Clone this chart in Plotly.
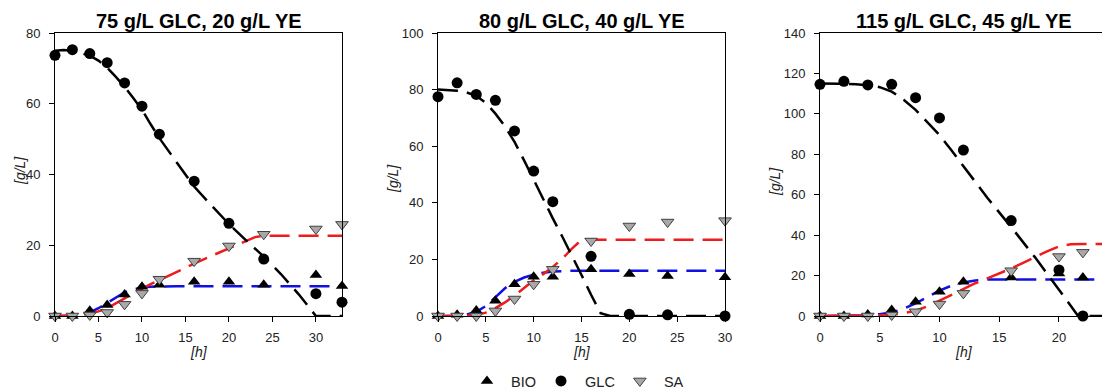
import plotly.graph_objects as go

W, H = 1102, 392

# ---------------- measured data ----------------
t1 = [0, 2, 4, 6, 8, 10, 12, 16, 20, 24, 30, 33]
bio1 = [0, 0, 1.5, 3.1, 6.1, 8.3, 8.8, 9.7, 9.7, 8.8, 11.6, 8.5]
glc1 = [73.7, 75.3, 74.2, 71.6, 65.9, 59.3, 51.4, 38.1, 26.2, 16.1, 6.3, 3.9]
sa1 = [0, 0, 0.3, 1.0, 3.3, 6.4, 10.4, 15.5, 19.8, 23.1, 24.6, 25.9]

t2 = [0, 2, 4, 6, 8, 10, 12, 16, 20, 24, 30]
bio2 = [0, 0.4, 1.9, 5.4, 11.2, 13.9, 13.9, 16.5, 14.8, 14.1, 13.7]
glc2 = [77.5, 82.4, 78.3, 76.2, 65.4, 51.2, 40.4, 21.1, 0.6, 0.4, 0]
sa2 = [0, 0, 0, 1.8, 6.0, 11.2, 16.5, 26.5, 31.8, 33.2, 33.7]

t3 = [0, 2, 4, 6, 8, 10, 12, 16, 20, 22]
bio3 = [0, 0, 0.8, 3.0, 7.1, 12.0, 17.0, 19.0, 21.0, 19.1]
glc3 = [114.6, 116.1, 114.3, 114.6, 108.0, 98.0, 82.1, 47.2, 22.8, 0]
sa3 = [0, 0, 0, 0.5, 2.1, 5.9, 11.2, 22.4, 29.4, 31.5]

# ---------------- model curves ----------------
m1_glc_t = [0, 1, 2, 3, 4, 5, 6, 7, 8, 9, 10, 11, 12, 14, 16, 18, 20, 22, 24, 26, 28, 30, 33]
m1_glc = [75.0, 75.2, 75.0, 74.4, 73.6, 72.2, 70.2, 67.6, 64.8, 61.6, 58.3, 54.2, 50.3,
          43.4, 36.6, 31.2, 26.0, 21.3, 16.8, 11.8, 6.2, 0, 0]
m1_sa_t = [0, 2, 3, 4, 5, 6, 7, 8, 9, 10, 11, 12, 14, 16, 18, 20, 22, 23, 24, 33]
m1_sa = [0, 0.1, 0.3, 0.7, 1.3, 2.2, 3.5, 5.0, 6.4, 7.8, 9.0, 10.1, 12.5, 14.8, 17.0,
         19.2, 21.3, 22.3, 22.7, 22.7]
m1_bio_t = [0, 2, 3, 4, 5, 6, 7, 8, 9, 10, 11, 12, 14, 33]
m1_bio = [0, 0.1, 0.4, 1.0, 2.2, 3.7, 5.3, 6.7, 7.5, 8.1, 8.3, 8.4, 8.4, 8.4]

m2_glc_t = [0, 2, 3, 4, 5, 6, 7, 8, 9, 10, 11, 12, 13, 14, 15, 16, 17, 18, 30]
m2_glc = [80.0, 79.6, 79.0, 77.8, 75.3, 71.5, 67.0, 61.5, 55.0, 48.0, 41.0, 34.5,
          28.0, 21.5, 14.5, 7.5, 1.0, 0, 0]
m2_sa_t = [0, 2, 3, 4, 5, 6, 7, 8, 9, 10, 11, 12, 13, 14, 15, 30]
m2_sa = [0, 0, 0.1, 0.4, 1.2, 2.8, 4.8, 7.2, 9.8, 12.6, 14.8, 17.3, 20.3, 23.8, 26.9, 26.9]
m2_bio_t = [0, 2, 3, 4, 5, 6, 7, 8, 9, 10, 11, 12, 13, 14, 30]
m2_bio = [0, 0.1, 0.5, 1.5, 3.5, 6.8, 9.8, 12.1, 13.6, 14.6, 15.3, 15.7, 15.9, 16.0, 16.0]

m3_glc_t = [0, 2, 3, 4, 5, 6, 7, 8, 9, 10, 11, 12, 13, 14, 16, 18, 20, 21, 21.6, 24]
m3_glc = [115, 115, 114.7, 114.2, 113.2, 111.0, 107.0, 102.0, 96.0, 89.5, 82.0, 74.0,
          66.0, 58.5, 44.0, 29.0, 13.0, 5.0, 0, 0]
m3_sa_t = [0, 4, 5, 6, 7, 8, 9, 10, 11, 12, 13, 14, 15, 16, 17, 18, 19, 20, 21, 22, 24]
m3_sa = [0, 0, 0.2, 0.6, 1.4, 2.6, 4.8, 7.6, 10.6, 13.6, 16.2, 18.6, 21.0, 23.5, 26.3,
         29.2, 32.0, 34.4, 35.5, 35.6, 35.6]
m3_bio_t = [0, 3, 4, 5, 6, 7, 8, 9, 10, 11, 12, 13, 14, 24]
m3_bio = [0, 0.1, 0.4, 0.9, 1.8, 3.6, 6.2, 9.5, 12.6, 15.0, 16.6, 17.6, 18.1, 18.1]

titles = ["75 g/L GLC, 20 g/L YE", "80 g/L GLC, 40 g/L YE", "115 g/L GLC, 45 g/L YE"]
x_ranges = [[0, 33], [0, 30], [0, 23.6]]
y_ranges = [[0, 80], [0, 100], [0, 140]]
y_dticks = [20, 20, 20]
x_ticks = [[0, 5, 10, 15, 20, 25, 30], [0, 5, 10, 15, 20, 25, 30], [0, 5, 10, 15, 20]]
series_names = ["BIO", "GLC", "SA"]

# ---------------- layout geometry (pixels) ----------------
px_left = [55, 438, 820]
px_right = [342, 725, 1102]
px_top, px_bottom = 33, 316

FONT = "Liberation Sans, Arial, sans-serif"
DASH = "20px,9px"

fig = go.Figure()

panels = [
    (t1, bio1, glc1, sa1, (m1_glc_t, m1_glc), (m1_sa_t, m1_sa), (m1_bio_t, m1_bio)),
    (t2, bio2, glc2, sa2, (m2_glc_t, m2_glc), (m2_sa_t, m2_sa), (m2_bio_t, m2_bio)),
    (t3, bio3, glc3, sa3, (m3_glc_t, m3_glc), (m3_sa_t, m3_sa), (m3_bio_t, m3_bio)),
]

for i, (t, bio, glc, sa, mg, ms, mb) in enumerate(panels):
    xa = "x" if i == 0 else f"x{i+1}"
    ya = "y" if i == 0 else f"y{i+1}"
    for (mt, mv), col in [(mb, "#1010e0"), (ms, "#ee1c1c"), (mg, "#000000")]:
        fig.add_trace(go.Scatter(x=mt, y=mv, mode="lines", xaxis=xa, yaxis=ya,
                                 line=dict(color=col, width=2.5, dash=DASH),
                                 showlegend=False, hoverinfo="skip", cliponaxis=False))
    fig.add_trace(go.Scatter(x=t, y=bio, mode="markers", xaxis=xa, yaxis=ya,
                             name=" " + series_names[0],
                             legendgroup="bio", showlegend=(i == 0), cliponaxis=False,
                             marker=dict(symbol="triangle-up", size=11, color="black")))
    fig.add_trace(go.Scatter(x=t, y=glc, mode="markers", xaxis=xa, yaxis=ya,
                             name=" " + series_names[1],
                             legendgroup="glc", showlegend=(i == 0), cliponaxis=False,
                             marker=dict(symbol="circle", size=11, color="black")))
    fig.add_trace(go.Scatter(x=t, y=sa, mode="markers", xaxis=xa, yaxis=ya,
                             name=" " + series_names[2],
                             legendgroup="sa", showlegend=(i == 0), cliponaxis=False,
                             marker=dict(symbol="triangle-down", size=11, color="#a8a8a8",
                                         line=dict(color="#404040", width=1))))

layout = dict(
    width=W, height=H,
    margin=dict(l=0, r=0, t=0, b=0, autoexpand=False),
    paper_bgcolor="white", plot_bgcolor="white",
    font=dict(family=FONT, color="#222222"),
    showlegend=True,
    legend=dict(orientation="h", x=578 / W, xanchor="center", y=(H - 381) / H, yanchor="middle",
                font=dict(size=14.5, family=FONT, color="#222222"), bgcolor="rgba(0,0,0,0)",
                itemwidth=30, tracegroupgap=0),
)

ydom = [(H - px_bottom) / H, (H - px_top) / H]
annotations = []
for i in range(3):
    xk = "xaxis" if i == 0 else f"xaxis{i+1}"
    yk = "yaxis" if i == 0 else f"yaxis{i+1}"
    ya = "y" if i == 0 else f"y{i+1}"
    xa = "x" if i == 0 else f"x{i+1}"
    layout[xk] = dict(domain=[px_left[i] / W, px_right[i] / W], range=x_ranges[i], anchor=ya,
                      showline=True, linecolor="black", linewidth=1, mirror=True,
                      ticks="outside", ticklen=5, tickcolor="black", tickvals=x_ticks[i],
                      showgrid=False, zeroline=False, automargin=False, ticklabelstandoff=4,
                      tickfont=dict(size=13, family=FONT, color="#222222"))
    layout[yk] = dict(domain=ydom, range=y_ranges[i], anchor=xa,
                      showline=True, linecolor="black", linewidth=1, mirror=(i < 2),
                      ticks="outside", ticklen=5, tickcolor="black", dtick=y_dticks[i],
                      showgrid=False, zeroline=False, automargin=False, ticklabelstandoff=6,
                      tickfont=dict(size=13, family=FONT, color="#222222"))
    cx = (px_left[i] + (px_right[i] if i < 2 else 1107)) / 2
    annotations.append(dict(text=f"<b>{titles[i]}</b>", x=cx / W, y=(H - 21) / H,
                            xref="paper", yref="paper", showarrow=False,
                            xanchor="center", yanchor="middle",
                            font=dict(size=20, family=FONT, color="black")))
    annotations.append(dict(text="<i>[h]</i>", x=cx / W, y=(H - 352) / H,
                            xref="paper", yref="paper", showarrow=False,
                            xanchor="center", yanchor="middle",
                            font=dict(size=14, family=FONT, color="#222222")))

ylab_pos = [(20, 171), (393, 178), (775, 182)]
for (lx, ly) in ylab_pos:
    annotations.append(dict(text="<i>[g/L]</i>", x=lx / W, y=(H - ly) / H,
                            xref="paper", yref="paper", showarrow=False, textangle=-90,
                            xanchor="center", yanchor="middle",
                            font=dict(size=14, family=FONT, color="#222222")))

layout["annotations"] = annotations
fig.update_layout(**layout)

fig.write_html("out.html",
               post_script="document.body.style.margin='0';document.body.style.overflow='hidden';")
